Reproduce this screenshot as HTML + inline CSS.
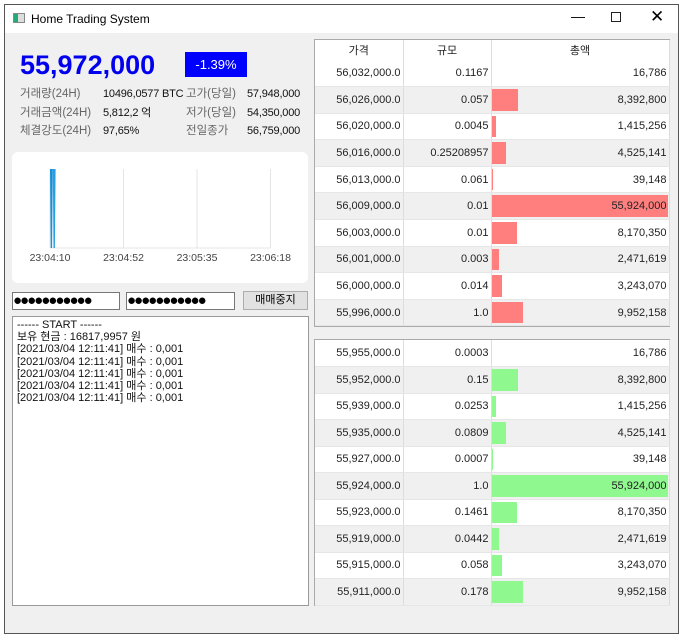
<!DOCTYPE html>
<html><head><meta charset="utf-8"><style>
*{box-sizing:border-box;margin:0;padding:0}
body{width:685px;height:638px;background:#fff;font-family:"Liberation Sans","Noto Sans CJK KR",sans-serif;position:relative;overflow:hidden}
.abs{position:absolute}
#win{left:4px;top:4px;width:675px;height:630px;border:1px solid #555;background:#f0f0f0}
#title{left:0;top:0;width:673px;height:28px;background:#fff;font-size:12px}
.lbl{font-size:11.5px;color:#666;line-height:14px;height:14px;white-space:nowrap}
.val{font-size:11px;color:#111;line-height:14px;height:14px;white-space:nowrap;letter-spacing:-0.2px}
table{border-collapse:collapse;font-size:11px;table-layout:fixed}
td{height:26.6px;border-right:1px solid #ddd;border-bottom:1px solid #e6e6e6;padding-right:2px;text-align:right;position:relative;color:#222}
tr.g td{background:#f0f0f0}
th{height:20px;font-weight:normal;font-size:11px;border-right:1px solid #ddd;background:#fff;color:#222}
.bar{position:absolute;left:0;top:2px;bottom:2px}
td span{position:relative}
.dots{font-size:15px;letter-spacing:-2px;line-height:15px;background:#fff;border:1px solid #777;overflow:hidden;white-space:nowrap}
</style></head><body>
<div id="win" class="abs">
 <div id="title" class="abs">
  <div class="abs" style="left:8px;top:8px;width:12px;height:10px;border:1px solid #888;background:linear-gradient(90deg,#2a7 0 40%,#ddd 40%)"></div>
  <div class="abs" style="left:26px;top:7px">Home Trading System</div>
  <div class="abs" style="left:566px;top:3px;font-size:14px">&#8212;</div>
  <div class="abs" style="left:606px;top:7px;width:10px;height:10px;border:1px solid #222"></div>
  <div class="abs" style="left:645px;top:2px;font-size:17px">&#10005;</div>
 </div>
</div>
<div class="abs" style="left:20px;top:50px;font-size:27px;font-weight:bold;color:#0000ee">55,972,000</div>
<div class="abs" style="left:185px;top:52px;width:62px;height:25px;background:#0000ff;color:#fff;font-size:13px;text-align:center;line-height:25px">-1.39%</div>
<div class="abs lbl" style="left:20px;top:87px">거래량(24H)</div>
<div class="abs val" style="left:103px;top:87px">10496,0577 BTC</div>
<div class="abs lbl" style="left:20px;top:106px">거래금액(24H)</div>
<div class="abs val" style="left:103px;top:106px">5,812,2 억</div>
<div class="abs lbl" style="left:20px;top:124px">체결강도(24H)</div>
<div class="abs val" style="left:103px;top:124px">97,65%</div>
<div class="abs lbl" style="left:186px;top:87px">고가(당일)</div>
<div class="abs val" style="left:247px;top:87px">57,948,000</div>
<div class="abs lbl" style="left:186px;top:106px">저가(당일)</div>
<div class="abs val" style="left:247px;top:106px">54,350,000</div>
<div class="abs lbl" style="left:186px;top:124px">전일종가</div>
<div class="abs val" style="left:247px;top:124px">56,759,000</div>

<svg class="abs" style="left:12px;top:152px" width="296" height="131">
 <rect width="296" height="131" rx="6" fill="#fff"/>
 <g id="grid"></g><g id="lines"></g>
</svg>

<div class="abs dots" style="left:12px;top:292px;width:108px;height:18px">●●●●●●●●●●●</div>
<div class="abs dots" style="left:126px;top:292px;width:109px;height:18px">●●●●●●●●●●●</div>
<div class="abs" style="left:243px;top:291px;width:65px;height:19px;background:#e1e1e1;border:1px solid #adadad;font-size:11px;text-align:center;line-height:17px">매매중지</div>
<div class="abs" style="left:12px;top:316px;width:297px;height:290px;background:#fff;border:1px solid #999;font-size:11px;line-height:12.2px;padding:2px 4px;color:#111">------ START ------<br>보유 현금 : 16817,9957 원<br>[2021/03/04 12:11:41] 매수 : 0,001<br>[2021/03/04 12:11:41] 매수 : 0,001<br>[2021/03/04 12:11:41] 매수 : 0,001<br>[2021/03/04 12:11:41] 매수 : 0,001<br>[2021/03/04 12:11:41] 매수 : 0,001</div>

<div class="abs" style="left:314px;top:39px;width:356px;height:288px;border:1px solid #aaa;background:#fff">
 <table id="ask" style="width:354px"><colgroup><col style="width:88px"><col style="width:88px"><col style="width:178px"></colgroup>
 <tr><th>가격</th><th>규모</th><th>총액</th></tr></table>
</div>
<div class="abs" style="left:314px;top:339px;width:356px;height:267px;border:1px solid #aaa;background:#fff">
 <table id="bid" style="width:354px"><colgroup><col style="width:88px"><col style="width:88px"><col style="width:178px"></colgroup></table>
</div>
<script>
const askPrices=["56,032,000.0","56,026,000.0","56,020,000.0","56,016,000.0","56,013,000.0","56,009,000.0","56,003,000.0","56,001,000.0","56,000,000.0","55,996,000.0"];
const askSizes=["0.1167","0.057","0.0045","0.25208957","0.061","0.01","0.01","0.003","0.014","1.0"];
const askTotals=[16786,8392800,1415256,4525141,39148,55924000,8170350,2471619,3243070,9952158];
const bidPrices=["55,955,000.0","55,952,000.0","55,939,000.0","55,935,000.0","55,927,000.0","55,924,000.0","55,923,000.0","55,919,000.0","55,915,000.0","55,911,000.0"];
const bidSizes=["0.0003","0.15","0.0253","0.0809","0.0007","1.0","0.1461","0.0442","0.058","0.178"];
const bidTotals=[16786,8392800,1415256,4525141,39148,55924000,8170350,2471619,3243070,9952158];
const timeLabels=["23:04:10","23:04:52","23:05:35","23:06:18"];
const seriesA=[[0.5,1],[1,0],[1.5,1]];
const seriesB=[[2.5,1],[3,0],[3.5,1]];

function fill(id,prices,sizes,totals,color,rh){
 const t=document.getElementById(id);const mx=Math.max(...totals);
 prices.forEach((p,i)=>{
  const tr=document.createElement('tr');if(i%2)tr.className='g';
  
  
  const w=totals[i]/mx*176;
  tr.innerHTML=`<td style="height:${rh}px">${p}</td><td style="height:${rh}px">${sizes[i]}</td><td style="height:${rh}px"><div class="bar" style="width:${w}px;background:${color}"></div><span>${totals[i].toLocaleString('en-US')}</span></td>`;
  t.appendChild(tr);
 });
}
fill('ask',askPrices,askSizes,askTotals,'#ff7f7f',26.6);
fill('bid',bidPrices,bidSizes,bidTotals,'#8ff88f',26.5);

const ns='http://www.w3.org/2000/svg';
const x0=38,dx=73.5,yb=96,yt=17;
const xs=i=>x0+i*dx, ys=v=>yb-v*(yb-yt);
const xt=t=>x0+t*1.4;
const g=document.getElementById('grid');
timeLabels.forEach((l,i)=>{
 const ln=document.createElementNS(ns,'line');
 ln.setAttribute('x1',xs(i));ln.setAttribute('x2',xs(i));ln.setAttribute('y1',yt);ln.setAttribute('y2',yb);
 ln.setAttribute('stroke','#e4e4e4');
 
 
 g.appendChild(ln);
 const tx=document.createElementNS(ns,'text');
 tx.setAttribute('x',xs(i));tx.setAttribute('y',yb+13);tx.setAttribute('text-anchor','middle');
 tx.setAttribute('font-size','10.5');tx.setAttribute('fill','#444');tx.textContent=l;
 
 
 g.appendChild(tx);
});
const ax=document.createElementNS(ns,'line');
ax.setAttribute('x1',x0);ax.setAttribute('x2',xs(3));ax.setAttribute('y1',yb);ax.setAttribute('y2',yb);ax.setAttribute('stroke','#e4e4e4');


g.appendChild(ax);
const L=document.getElementById('lines');
[seriesA,seriesB].forEach((s,k)=>{
 const pl=document.createElementNS(ns,'polyline');
 pl.setAttribute('points',s.map(([t,v])=>`${xt(t)},${ys(v)}`).join(' '));
 pl.setAttribute('fill','none');pl.setAttribute('stroke',k?'#2a9fe0':'#1a8fd8');pl.setAttribute('stroke-width','1.4');
 
 
 L.appendChild(pl);
});
</script>
</body></html>
